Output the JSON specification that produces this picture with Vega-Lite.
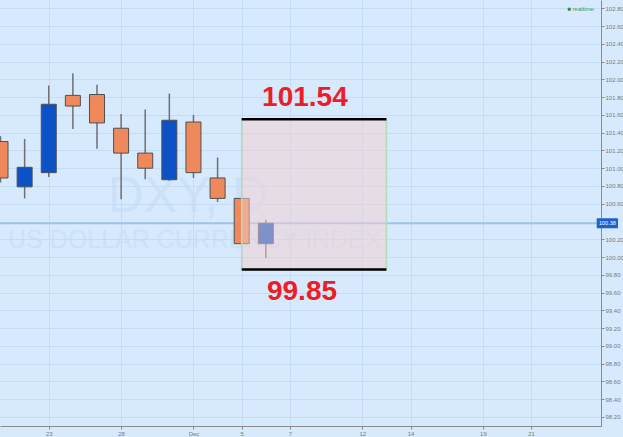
{
  "$schema": "https://vega.github.io/schema/vega-lite/v6.json",
  "autosize": "none",
  "width": 601,
  "height": 426,
  "padding": {"left": 0, "top": 0, "right": 22, "bottom": 11},
  "background": "#d6e9fd",
  "config": {
    "view": {"stroke": null, "fill": "#d6e9fd"},
    "font": "Liberation Sans",
    "axis": {"labelFont": "Liberation Sans", "labelFontSize": 6, "labelColor": "#7a7a7a", "gridColor": "#c4dcf5", "gridWidth": 1, "domainColor": "#8a8a8a", "tickColor": "#8a8a8a", "tickSize": 3, "title": null}
  },
  "datasets": {
    "candles": [
      {"date": "2016-11-21", "day": 0, "open": 101.30, "high": 101.36, "low": 100.84, "close": 100.89},
      {"date": "2016-11-22", "day": 1, "open": 100.79, "high": 101.33, "low": 100.66, "close": 101.01},
      {"date": "2016-11-23", "day": 2, "open": 100.95, "high": 101.93, "low": 100.90, "close": 101.72},
      {"date": "2016-11-24", "day": 3, "open": 101.82, "high": 102.07, "low": 101.44, "close": 101.70},
      {"date": "2016-11-25", "day": 4, "open": 101.83, "high": 101.94, "low": 101.22, "close": 101.51},
      {"date": "2016-11-28", "day": 5, "open": 101.45, "high": 101.61, "low": 100.65, "close": 101.17},
      {"date": "2016-11-29", "day": 6, "open": 101.17, "high": 101.66, "low": 100.875, "close": 101.00},
      {"date": "2016-11-30", "day": 7, "open": 100.87, "high": 101.84, "low": 100.86, "close": 101.54},
      {"date": "2016-12-01", "day": 8, "open": 101.52, "high": 101.60, "low": 100.89, "close": 100.95},
      {"date": "2016-12-02", "day": 9, "open": 100.89, "high": 101.12, "low": 100.62, "close": 100.66},
      {"date": "2016-12-05", "day": 10, "open": 100.66, "high": 100.67, "low": 100.15, "close": 100.15},
      {"date": "2016-12-06", "day": 11, "open": 100.15, "high": 100.42, "low": 99.985, "close": 100.38}
    ],
    "box": [{"start": 10, "end": 16, "top": 101.55, "bottom": 99.86}],
    "levels": [
      {"level": 101.55, "label": "101.54", "side": "top"},
      {"level": 99.86, "label": "99.85", "side": "bottom"}
    ],
    "last": [{"price": 100.38, "label": "100.38"}]
  },
  "encoding": {
    "x": {
      "type": "quantitative",
      "scale": {"domain": [0.186, 24.69], "nice": false, "zero": false},
      "axis": {
        "values": [2, 5, 8, 10, 12, 15, 17, 20, 22],
        "labelExpr": "datum.value == 2 ? '23' : datum.value == 5 ? '28' : datum.value == 8 ? 'Dec' : datum.value == 10 ? '5' : datum.value == 12 ? '7' : datum.value == 15 ? '12' : datum.value == 17 ? '14' : datum.value == 20 ? '19' : '21'",
        "orient": "bottom",
        "labelPadding": 1,
        "grid": true
      }
    },
    "y": {
      "type": "quantitative",
      "scale": {"domain": [98.097, 102.894], "nice": false, "zero": false},
      "axis": {
        "orient": "right",
        "values": [98.2, 98.4, 98.6, 98.8, 99.0, 99.2, 99.4, 99.6, 99.8, 100.0, 100.2, 100.6, 100.8, 101.0, 101.2, 101.4, 101.6, 101.8, 102.0, 102.2, 102.4, 102.6, 102.8],
        "format": ".2f",
        "labelPadding": 1,
        "grid": true
      }
    }
  },
  "layer": [
    {
      "data": {"name": "last"},
      "mark": {"type": "rule", "color": "#9fc2ec", "strokeWidth": 2},
      "encoding": {"y": {"field": "price"}}
    },
    {
      "data": {"values": [{"t": "DXY, D"}]},
      "mark": {"type": "text", "fontSize": 50, "color": "#c6ddf5", "opacity": 0.6, "align": "center", "baseline": "middle", "font": "Liberation Sans"},
      "encoding": {"x": {"datum": 7.77}, "y": {"datum": 100.68}, "text": {"field": "t"}}
    },
    {
      "data": {"values": [{"t": "US DOLLAR CURRENCY INDEX"}]},
      "mark": {"type": "text", "fontSize": 25, "color": "#c6ddf5", "opacity": 0.6, "align": "center", "baseline": "middle", "font": "Liberation Sans"},
      "encoding": {"x": {"datum": 8.05}, "y": {"datum": 100.19}, "text": {"field": "t"}}
    },
    {
      "data": {"name": "candles"},
      "mark": {"type": "rule", "color": "#707070", "strokeWidth": 1.5, "clip": true},
      "encoding": {"x": {"field": "day"}, "y": {"field": "low"}, "y2": {"field": "high"}}
    },
    {
      "data": {"name": "candles"},
      "mark": {"type": "bar", "size": 15, "stroke": "#505050", "strokeWidth": 1, "clip": true},
      "encoding": {
        "x": {"field": "day"},
        "y": {"field": "open"},
        "y2": {"field": "close"},
        "color": {"condition": {"test": "datum.close > datum.open", "value": "#0b52c6"}, "value": "#ef895b"}
      }
    },
    {
      "data": {"name": "box"},
      "mark": {"type": "rect", "fill": "#f3cfd0", "fillOpacity": 0.5, "stroke": "#b6dab4", "strokeWidth": 1.5},
      "encoding": {"x": {"field": "start"}, "x2": {"field": "end"}, "y": {"field": "top"}, "y2": {"field": "bottom"}}
    },
    {
      "data": {"name": "box"},
      "mark": {"type": "rule", "color": "#000000", "strokeWidth": 2.5},
      "encoding": {"x": {"field": "start"}, "x2": {"field": "end"}, "y": {"field": "top"}}
    },
    {
      "data": {"name": "box"},
      "mark": {"type": "rule", "color": "#000000", "strokeWidth": 2.5},
      "encoding": {"x": {"field": "start"}, "x2": {"field": "end"}, "y": {"field": "bottom"}}
    },
    {
      "data": {"name": "levels"},
      "transform": [{"filter": "datum.side == 'top'"}],
      "mark": {"type": "text", "fontSize": 28, "fontWeight": "bold", "color": "#ee1c25", "align": "center", "baseline": "middle", "dy": -21},
      "encoding": {"x": {"datum": 12.62}, "y": {"field": "level"}, "text": {"field": "label"}}
    },
    {
      "data": {"name": "levels"},
      "transform": [{"filter": "datum.side == 'bottom'"}],
      "mark": {"type": "text", "fontSize": 28, "fontWeight": "bold", "color": "#ee1c25", "align": "center", "baseline": "middle", "dy": 23},
      "encoding": {"x": {"datum": 12.5}, "y": {"field": "level"}, "text": {"field": "label"}}
    },
    {
      "data": {"name": "last"},
      "mark": {"type": "rect", "fill": "#1f5fcf", "clip": false, "height": 10},
      "encoding": {"x": {"datum": 24.72}, "x2": {"datum": 25.6}, "y": {"field": "price"}}
    },
    {
      "data": {"name": "last"},
      "mark": {"type": "text", "fontSize": 5.5, "color": "#ffffff", "align": "center", "baseline": "middle"},
      "encoding": {"x": {"datum": 25.16}, "y": {"field": "price"}, "text": {"field": "label"}}
    },
    {
      "data": {"values": [{"t": "realtime"}]},
      "mark": {"type": "text", "fontSize": 6, "color": "#3d9b5e", "align": "left", "baseline": "middle"},
      "encoding": {"x": {"datum": 23.72}, "y": {"datum": 102.79}, "text": {"field": "t"}}
    },
    {
      "data": {"values": [{"t": "dot"}]},
      "mark": {"type": "point", "filled": true, "size": 12, "color": "#2e8b4f", "opacity": 1},
      "encoding": {"x": {"datum": 23.58}, "y": {"datum": 102.79}}
    }
  ]
}
